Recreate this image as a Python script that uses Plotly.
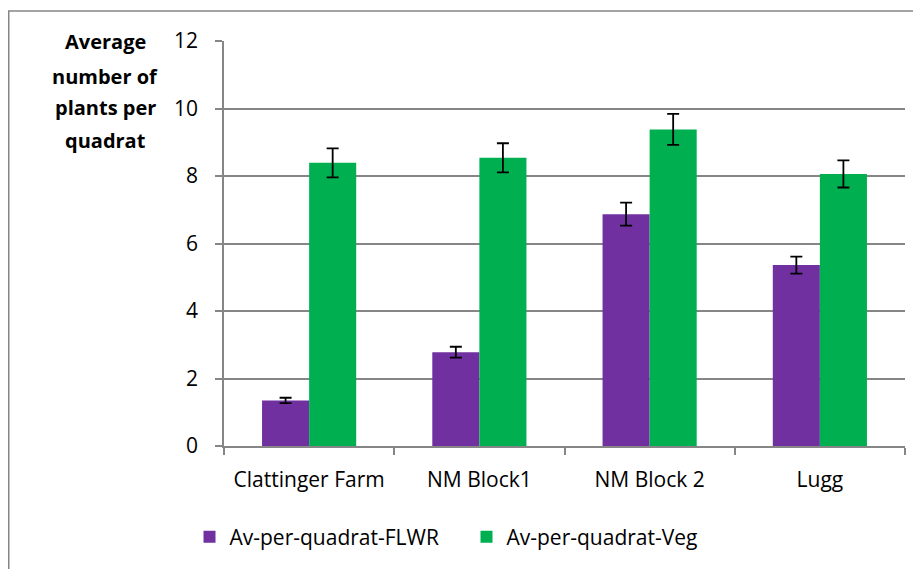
import plotly.graph_objects as go

categories = ["Clattinger Farm", "NM Block1", "NM Block 2", "Lugg"]
flwr_values = [1.35, 2.78, 6.87, 5.36]
flwr_errors = [0.08, 0.16, 0.34, 0.25]
veg_values = [8.39, 8.54, 9.38, 8.06]
veg_errors = [0.43, 0.43, 0.46, 0.40]
series_names = ["Av-per-quadrat-FLWR", "Av-per-quadrat-Veg"]
y_title_lines = ["Average", "number of", "plants per", "quadrat"]
y_ticks = [0, 2, 4, 6, 8, 10, 12]

FONT = "Open Sans"
# page body has an 8px margin; figure coordinates below are relative to the figure
W, H = 913, 561
L, R, T, B = 216, 16, 33, 123
pw, ph = W - L - R, H - T - B
GREY = "#868686"

fig = go.Figure()
fig.add_trace(go.Bar(
    x=categories, y=flwr_values, name=series_names[0],
    marker=dict(color="#7030A0", line=dict(width=0)),
    error_y=dict(type="data", array=flwr_errors, color="black", thickness=1.8, width=6),
))
fig.add_trace(go.Bar(
    x=categories, y=veg_values, name=series_names[1],
    marker=dict(color="#00B050", line=dict(width=0)),
    error_y=dict(type="data", array=veg_errors, color="black", thickness=1.8, width=6),
))

annotations = []
title_centers = [34, 68.5, 100, 132]
for line, ypix in zip(y_title_lines, title_centers):
    annotations.append(dict(
        text=line, xref="paper", yref="paper",
        x=(97 - L) / pw, y=(H - B - ypix) / ph,
        xanchor="center", yanchor="middle", showarrow=False,
        font=dict(family=FONT, size=20, color="black", weight="bold"),
    ))

fig.update_layout(
    width=W, height=H,
    margin=dict(l=L, r=R, t=T, b=B, pad=0),
    paper_bgcolor="white", plot_bgcolor="white",
    barmode="group", bargap=0.447, bargroupgap=0,
    font=dict(family=FONT, size=20, color="black"),
    showlegend=True,
    legend=dict(
        orientation="h", x=(181.5 - L) / pw, y=(H - B - 529) / ph,
        xanchor="left", yanchor="middle",
        font=dict(family=FONT, size=21, color="black"),
        itemwidth=30, tracegroupgap=0,
        entrywidth=232,
    ),
    annotations=annotations,
    shapes=[dict(
        type="rect", xref="paper", yref="paper",
        x0=(0.75 - L) / pw, x1=1.2, y0=-0.6, y1=(H - B - 3) / ph,
        line=dict(color=GREY, width=1.5), fillcolor="rgba(0,0,0,0)", layer="below",
    )],
    xaxis=dict(
        showline=True, linecolor=GREY, linewidth=1.5,
        ticks="outside", tickson="boundaries", ticklen=7, tickcolor=GREY, tickwidth=1.5,
        showgrid=False, tickfont=dict(family=FONT, size=21), ticklabelstandoff=14,
    ),
    yaxis=dict(
        range=[0, 12], tickvals=y_ticks, showline=True, linecolor=GREY, linewidth=1.5,
        ticks="outside", ticklen=7, tickcolor=GREY, tickwidth=1.5,
        showgrid=True, gridcolor=GREY, gridwidth=1.5,
        zeroline=False, tickfont=dict(family=FONT, size=21), ticklabelstandoff=13,
    ),
)

fig.write_html("out.html")
